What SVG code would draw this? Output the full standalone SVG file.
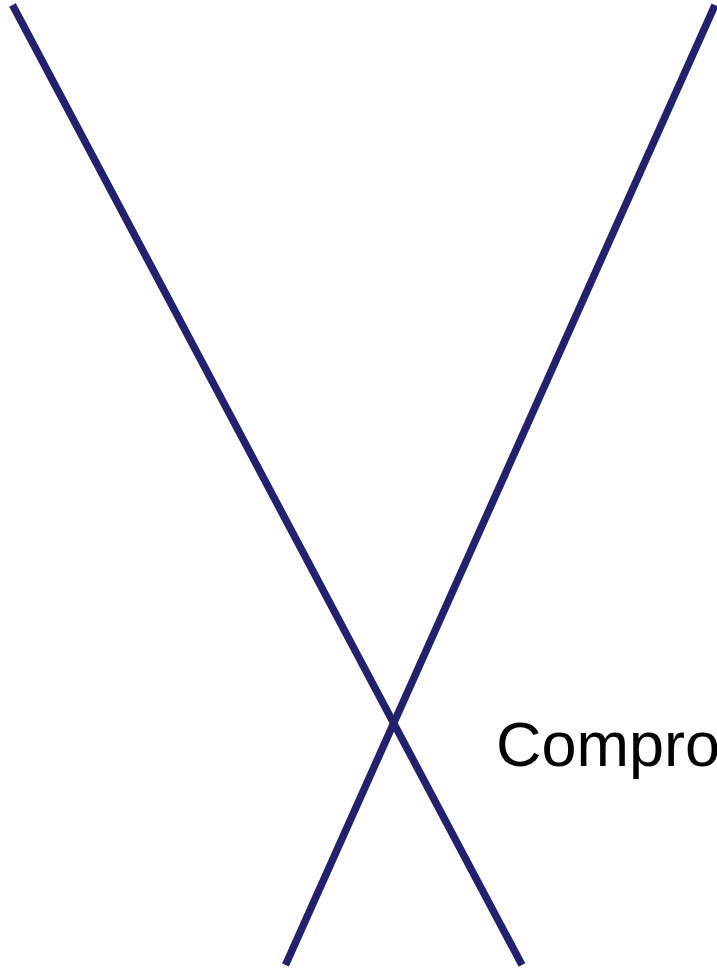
<svg xmlns="http://www.w3.org/2000/svg" width="717" height="973" viewBox="0 0 717 973">
<style>
.edge{stroke:#22226c;stroke-width:7.5;fill:none;stroke-linecap:butt}
.lbl{font-family:"Liberation Sans",Arial,sans-serif;font-size:63px;fill:#000}
</style>
<rect width="717" height="973" fill="#fff"/>
<g id="connectors">
<line class="edge" x1="12.5" y1="5" x2="522" y2="965"/>
<line class="edge" x1="715" y1="5" x2="285.5" y2="965"/>
</g>
<g id="label">
<text class="lbl" x="496" y="766">Compro</text>
</g>
</svg>
